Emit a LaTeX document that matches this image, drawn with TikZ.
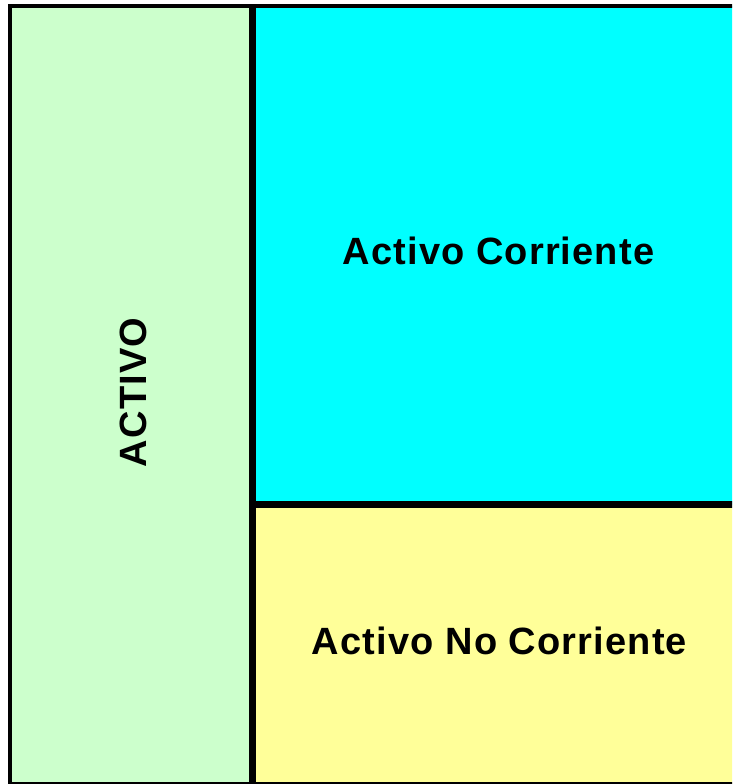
\documentclass[tikz,border=0pt]{standalone}
\usepackage{fontspec}
\newfontfamily\blockfont{Liberation Sans}[LetterSpace=3]
\definecolor{activogreen}{HTML}{CCFFCC}
\definecolor{corrcyan}{HTML}{00FFFF}
\definecolor{nocorryellow}{HTML}{FFFF99}
\tikzset{
  blocklabel/.style={font=\blockfont\bfseries\fontsize{38}{40}\selectfont,
    text=black, inner sep=0pt},
  frameline/.style={line width=4pt},
  divline/.style={line width=7pt}
}
\begin{document}
\begin{tikzpicture}[x=1pt,y=-1pt]
  \def\right{745}
  \def\bottom{784}
  \def\split{252.5}
  \def\mid{504.5}
  \useasboundingbox (0,0) rectangle (732,784);
  \clip (0,0) rectangle (732,784);

  %%% fills
  \fill[activogreen] (10,6) rectangle (\split,\bottom);
  \fill[corrcyan] (\split,6) rectangle (\right,\mid);
  \fill[nocorryellow] (\split,\mid) rectangle (\right,\bottom);

  %%% lines
  \draw[frameline] (10,6) rectangle (\right,\bottom);
  \draw[divline] (\split,6) -- (\split,\bottom);
  \draw[divline] (\split,\mid) -- (\right,\mid);

  %%% labels
  \node[blocklabel, rotate=90] (activo) at (133,392.5) {ACTIVO};
  \node[blocklabel] (corriente) at (498.5,251) {Activo Corriente};
  \node[blocklabel] (nocorriente) at (499.5,640.5) {Activo No Corriente};
\end{tikzpicture}
\end{document}
